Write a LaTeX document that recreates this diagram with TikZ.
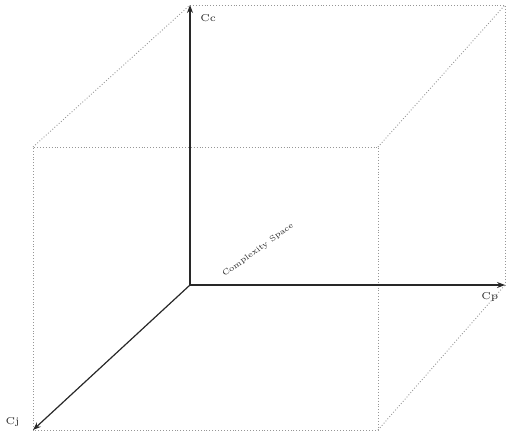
\documentclass[tikz,border=0pt]{standalone}
\usepackage{tikz}
\usetikzlibrary{arrows.meta, calc}
\definecolor{axgray}{RGB}{ 40, 40, 40}
\definecolor{edgray}{RGB}{150,150,150}
\tikzset{
  % Axis arrows
  Axis/.style={-{Stealth[length=4pt,width=3pt]},line width=0.6pt,color=axgray},
  % Dotted cube edges
  Edge/.style={line width=0.45pt,color=edgray,densely dotted},
  % Axis labels
  AL/.style={font=\fontsize{5}{6}\selectfont,inner sep=1pt,text=axgray},
}
\begin{document}
\begin{tikzpicture}[x=0.5pt,y=-0.5pt]
        \useasboundingbox (0,0) rectangle (508,433);
        % Corners
        \coordinate (o)  at (190,285);
        \coordinate (bt) at (190,5);
        \coordinate (btr) at (505,5);
        \coordinate (bbr) at (505,285);
        \coordinate (ftl) at (33,147);
        \coordinate (ftr) at (378,147);
        \coordinate (fbr) at (378,430);
        \coordinate (fbl) at (33,430);
        % Back face
        \draw[Edge] (bt) -- (btr) -- (bbr);
        % Front face
        \draw[Edge] (fbl) -- (ftl) -- (ftr) -- (fbr) -- (fbl);
        % Connecting edges
        \draw[Edge] (ftl) -- (bt);
        \draw[Edge] (ftr) -- (btr);
        \draw[Edge] (fbr) -- (bbr);
        % Axes
        \draw[Axis] (o) -- (bt);
        \draw[Axis] (o) -- (bbr);
        \draw[Axis] (o) -- (fbl);
        \node[AL,anchor=west] at (198,18) (cc) {Cc};
        \node[AL,anchor=west] at (479,297) (cp) {Cp};
        \node[AL,anchor=east] at (22,422) (cj) {Cj};
        % Diagonal label
        \node[font=\fontsize{4}{5}\selectfont,text=axgray,rotate=36,inner sep=0pt]
              at (258,250) (cs) {Complexity Space};
      \end{tikzpicture}
\end{document}
